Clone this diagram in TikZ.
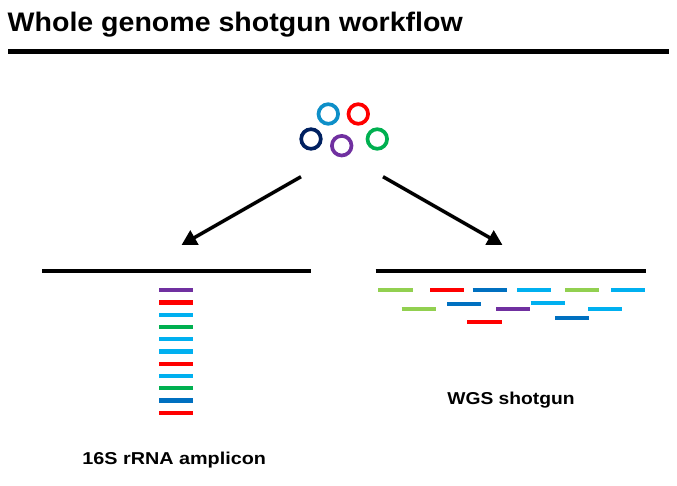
\documentclass[tikz,border=0pt]{standalone}
\usepackage{fontspec}
\setmainfont{Liberation Sans}
\usetikzlibrary{arrows.meta}
\definecolor{cLB}{HTML}{0E8FC8}
\definecolor{cRed}{HTML}{FF0000}
\definecolor{cNavy}{HTML}{002060}
\definecolor{cPur}{HTML}{7030A0}
\definecolor{cGrn}{HTML}{00B050}
\definecolor{cSky}{HTML}{00B0F0}
\definecolor{cBlu}{HTML}{0070C0}
\definecolor{cLGr}{HTML}{92D050}
\tikzset{
  ring/.style={circle, draw=#1, line width=3.7pt, minimum size=19.6pt, inner sep=0pt},
  bar/.style={draw=#1, line width=4.3pt},
  rule/.style={draw=black, line width=3.8pt},
  arr/.style={draw=black, line width=3.5pt, -{Triangle[length=15pt,width=16pt]}},
  lbl/.style={font=\bfseries\fontsize{17.2}{20}\selectfont, anchor=base, inner sep=0pt},
}
\begin{document}
\begin{tikzpicture}[x=1pt,y=-1pt]
\useasboundingbox (0,0) rectangle (677,486);
% title
\node[anchor=base west, inner sep=0pt, font=\bfseries\fontsize{26.8}{30}\selectfont] (title) at (7.5,31.7) {\scalebox{1.065}[1]{Whole genome shotgun workflow}};
\coordinate (tr1) at (8,51.3);
\coordinate (tr2) at (669,51.3);
\draw[black, line width=4.6pt] (tr1) -- (tr2);
% circles
\node[ring=cLB] (c1) at (328.3,114) {};
\node[ring=cRed] (c2) at (358.3,114) {};
\node[ring=cNavy] (c3) at (311,139) {};
\node[ring=cPur] (c4) at (341.7,145.7) {};
\node[ring=cGrn] (c5) at (377.3,139) {};
% arrows
\coordinate (a1s) at (301,176.7);
\coordinate (a1e) at (181.5,245);
\coordinate (a2s) at (383,176.7);
\coordinate (a2e) at (502.5,245);
\draw[arr] (a1s) -- (a1e);
\draw[arr] (a2s) -- (a2e);
% baselines
\coordinate (l1) at (42,271.3);
\coordinate (l2) at (311,271.3);
\coordinate (r1) at (375.5,271.3);
\coordinate (r2) at (645.5,271.3);
\draw[rule] (l1) -- (l2);
\draw[rule] (r1) -- (r2);
% left bars
\foreach \c [count=\i from 0] in {cPur,cRed,cSky,cGrn,cSky,cSky,cRed,cSky,cGrn,cBlu,cRed}{
  \draw[bar=\c] (159,290.3+\i*12.24) -- (193.3,290.3+\i*12.24);
}
% right bars
\draw[bar=cLGr] (378.3,290.3) -- (412.7,290.3);
\draw[bar=cRed] (430.3,290.3) -- (464.3,290.3);
\draw[bar=cBlu] (472.7,290.3) -- (506.7,290.3);
\draw[bar=cSky] (517,290.3) -- (550.7,290.3);
\draw[bar=cLGr] (565,290.3) -- (599.3,290.3);
\draw[bar=cSky] (611.3,290.3) -- (645.3,290.3);
\draw[bar=cSky] (530.7,302.7) -- (564.7,302.7);
\draw[bar=cBlu] (447.3,304.3) -- (481.3,304.3);
\draw[bar=cLGr] (401.7,308.7) -- (435.7,308.7);
\draw[bar=cPur] (496.3,308.7) -- (530.3,308.7);
\draw[bar=cSky] (588,308.7) -- (622.3,308.7);
\draw[bar=cBlu] (555.3,318) -- (589.3,318);
\draw[bar=cRed] (467.3,322.3) -- (501.7,322.3);
% labels
\node[lbl] (wgs) at (511,404.7) {\scalebox{1.12}[1]{WGS shotgun}};
\node[lbl] (amp) at (174.2,464) {\scalebox{1.15}[1]{16S rRNA amplicon}};
\end{tikzpicture}
\end{document}
